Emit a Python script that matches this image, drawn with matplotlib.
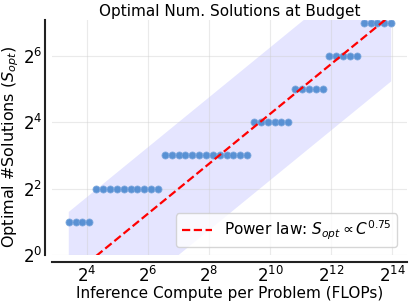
import numpy as np
import matplotlib.pyplot as plt

# log2 of compute budget for each point, and the chosen num. solutions
log2_compute = [3.40, 3.625, 3.85, 4.075,
                4.30, 4.525, 4.75, 4.975, 5.20, 5.425, 5.65, 5.875, 6.10, 6.325,
                6.55, 6.775, 7.00, 7.225, 7.45, 7.675, 7.90, 8.125, 8.35, 8.575, 8.80, 9.025, 9.25,
                9.475, 9.70, 9.925, 10.15, 10.375, 10.60,
                10.825, 11.05, 11.275, 11.50, 11.725,
                11.95, 12.175, 12.40, 12.625, 12.85,
                13.075, 13.30, 13.525, 13.75, 13.975]
s_opt = [2] * 4 + [4] * 10 + [8] * 13 + [16] * 6 + [32] * 5 + [64] * 5 + [128] * 5

fit_exp = 0.75
fit_log2_intercept = -3.25
band_log2 = 2.0

xtick_exp = [4, 6, 8, 10, 12, 14]
ytick_exp = [0, 2, 4, 6]

C = 2.0 ** np.array(log2_compute)
S = np.array(s_opt)
fit = 2.0 ** fit_log2_intercept * C ** fit_exp

fig = plt.figure(figsize=(4.11, 3.03), dpi=100)
ax = fig.add_axes([0.1265, 0.158, 0.8635, 0.776])

ax.fill_between(C, fit / 2 ** band_log2, fit * 2 ** band_log2, color="blue", alpha=0.1, lw=0)
ax.scatter(C, S, s=26, color="#4a88d0", edgecolor="#7fa9de", linewidth=0.6, alpha=0.9, zorder=3)
ax.plot(C, fit, "--", color="red", lw=1.6, zorder=4, label=r"Power law: $S_{opt} \propto C^{0.75}$")

ax.set_xscale("log", base=2)
ax.set_yscale("log", base=2)
ax.set_xlim(2 ** 2.85, 2 ** 14.49)
ax.set_ylim(1, 2 ** 7.08)
ax.set_xticks([2 ** e for e in xtick_exp])
ax.set_xticklabels([r"$2^{%d}$" % e for e in xtick_exp])
ax.set_yticks([2 ** e for e in ytick_exp])
ax.set_yticklabels([r"$2^{%d}$" % e for e in ytick_exp])
ax.minorticks_off()
ax.tick_params(length=0, labelsize=12)
ax.tick_params(axis="x", pad=3)
ax.tick_params(axis="y", pad=2)

ax.grid(True, color="#cccccc", alpha=0.4, lw=0.8)
for side in ["top", "right"]:
    ax.spines[side].set_visible(False)
for side in ["left", "bottom"]:
    ax.spines[side].set_position(("outward", 5))
    ax.spines[side].set_color("#222222")
    ax.spines[side].set_linewidth(1.5)

ax.set_title("Optimal Num. Solutions at Budget", fontsize=11, pad=3)
ax.set_xlabel("Inference Compute per Problem (FLOPs)", fontsize=11, labelpad=0)
ax.set_ylabel(r"Optimal #Solutions ($S_{opt}$)", fontsize=11.5)
ax.yaxis.set_label_coords(-0.086, 0.46)
ax.legend(loc="lower right", fontsize=11, framealpha=0.8, borderpad=0.35,
          bbox_to_anchor=(0.995, 0.0))

fig.savefig("out.png", dpi=100)
